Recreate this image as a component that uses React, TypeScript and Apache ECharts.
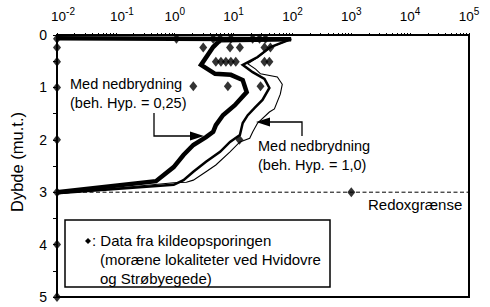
import React, { useEffect, useRef } from 'react';
import * as echarts from 'echarts';

// Tick labels
const xTickLabels = [0.01, 0.1, 1, 10, 100, 1000, 10000, 100000];
const depthLabels = [0, 1, 2, 3, 4, 5];

// Model curve: Med nedbrydning (beh. Hyp. = 0,25) – thick
const thickX = [0.01, 95, 5.9, 4.5, 2.8, 4.85, 9.0, 14.3, 16.7, 10.5, 6.6, 5.0, 4.5, 3.4, 2.07, 1.41, 0.96, 0.48, 0.01];
const thickD = [0.06, 0.08, 0.10, 0.23, 0.57, 0.74, 0.76, 0.86, 1.09, 1.34, 1.53, 1.72, 1.85, 1.95, 2.10, 2.29, 2.52, 2.79, 3.0];

// Model curve – medium
const mediumX = [0.01, 95, 42.3, 25.6, 14.3, 21.1, 33.5, 40.6, 31, 22.8, 17.4, 14.3, 12.8, 8.7, 5.9, 3.4, 2.07, 1.41, 0.96, 0.01];
const mediumD = [0.06, 0.08, 0.23, 0.42, 0.57, 0.71, 0.84, 1.01, 1.24, 1.39, 1.53, 1.68, 1.91, 2.04, 2.23, 2.42, 2.61, 2.77, 2.86, 3.02];

// Model curve: Med nedbrydning (beh. Hyp. = 1,0) – thin
const thinX = [0.01, 95, 42.3, 25.6, 17.4, 23.7, 28.7, 55.4, 67.2, 62.2, 49.4, 40.6, 25.6, 21.1, 18.8, 12.8, 8.7, 5.0, 3.4, 2.07, 1.58, 0.96, 0.01];
const thinD = [0.06, 0.08, 0.24, 0.43, 0.55, 0.65, 0.74, 0.80, 0.94, 1.13, 1.41, 1.47, 1.68, 1.85, 1.97, 2.04, 2.23, 2.48, 2.61, 2.77, 2.81, 2.82, 3.03];

// Data fra kildeopsporingen
const dataX = [0.01, 0.01, 0.01, 0.01, 0.01, 0.01, 0.01, 0.01,
  1.07, 4.5, 5.9, 9.0, 21.1, 27.6, 34.8,
  3.05, 8.7, 12.8, 33.5, 42.3,
  5.0, 6.1, 7.4, 9.0, 10.9, 33.5, 40.6,
  2.07, 8.0, 28.7,
  12.6, 1000];
const dataD = [0.07, 0.24, 0.51, 1.0, 2.0, 3.0, 4.0, 5.0,
  0.07, 0.07, 0.07, 0.07, 0.07, 0.07, 0.07,
  0.24, 0.24, 0.24, 0.24, 0.24,
  0.51, 0.51, 0.51, 0.51, 0.51, 0.51, 0.51,
  0.98, 0.98, 0.98,
  2.0, 3.0];

// Redoxgrænse
const redoxX = [0.01, 100000];
const redoxD = [3.0, 3.0];

const zip = (xs: number[], ys: number[]) => xs.map((x, i) => [x, ys[i]]);

const FONT = 'Liberation Sans, Arial, sans-serif';

export default function App() {
  const ref = useRef<HTMLDivElement>(null);
  useEffect(() => {
    const chart = echarts.init(ref.current!, null, { renderer: 'svg' });
    const logTicks: number[] = [];
    for (let e = -2; e < 5; e++) {
      for (let m = 1; m < 10; m++) logTicks.push(Number((m * Math.pow(10, e)).toPrecision(6)));
    }
    logTicks.push(100000);

    const txt = (text: string, x: number, y: number, size = 14.5) => ({
      type: 'text',
      style: { text, x, y, font: `${size}px ${FONT}`, fill: '#000', verticalAlign: 'middle', align: 'left' },
      z: 10,
    });

    chart.setOption({
      animation: false,
      backgroundColor: '#fff',
      grid: { left: 52, right: 21, top: 35, bottom: 10, show: true, borderColor: '#000', borderWidth: 2 },
      xAxis: {
        type: 'log',
        logBase: 10,
        min: 0.01,
        max: 100000,
        position: 'top',
        axisLine: { show: true, lineStyle: { color: '#000', width: 2 } },
        axisTick: { show: true, inside: false, length: 2, customValues: logTicks, lineStyle: { color: '#000', width: 1 } },
        minorTick: { show: false },
        splitLine: { show: false },
        axisLabel: {
          customValues: xTickLabels,
          margin: 9,
          color: '#000',
          formatter: (v: number) => {
            const e = Math.round(Math.log10(v));
            return e < 0 ? `{bn|10}{s|${e}}` : `{b|10}{s|${e}}`;
          },
          rich: {
            b: { fontSize: 13.5, fontFamily: FONT, color: '#000', lineHeight: 20 },
            bn: { fontSize: 13.5, fontFamily: FONT, color: '#000', lineHeight: 20, padding: [0, 0, 0, 12] },
            s: { fontSize: 10, fontFamily: FONT, color: '#000', lineHeight: 12, verticalAlign: 'top' },
          },
        },
      },
      yAxis: {
        type: 'value',
        inverse: true,
        min: 0,
        max: 5,
        interval: 0.5,
        axisLine: { show: true, lineStyle: { color: '#000', width: 2 } },
        axisTick: { show: true, inside: false, length: 4, lineStyle: { color: '#000' } },
        splitLine: { show: false },
        axisLabel: { customValues: depthLabels, fontSize: 14, fontFamily: FONT, color: '#000', margin: 10 },
        name: 'Dybde (mu.t.)',
        nameLocation: 'middle',
        nameRotate: 90,
        nameGap: 32,
        nameTextStyle: { fontSize: 16.5, fontFamily: FONT, color: '#000', padding: [0, 0, 0, 8] },
      },
      series: [
        { type: 'line', data: zip(redoxX, redoxD), symbol: 'none', clip: false, z: 1,
          lineStyle: { color: '#000', width: 1, type: [4, 2.5] } },
        { type: 'line', data: zip(thickX, thickD), symbol: 'none', clip: false, z: 3,
          lineStyle: { color: '#000', width: 4.5, join: 'miter' } },
        { type: 'line', data: zip(mediumX, mediumD), symbol: 'none', clip: false, z: 3,
          lineStyle: { color: '#000', width: 2.5, join: 'miter' } },
        { type: 'line', data: zip(thinX, thinD), symbol: 'none', clip: false, z: 3,
          lineStyle: { color: '#000', width: 1.1, join: 'miter' } },
        { type: 'scatter', data: zip(dataX, dataD), symbol: 'diamond', symbolSize: [8, 10], clip: false, z: 4,
          itemStyle: { color: '#000' } },
      ],
      graphic: [
        txt('Med nedbrydning', 70, 84),
        txt('(beh. Hyp. = 0,25)', 70, 103),
        { type: 'polyline', shape: { points: [[154, 113], [154, 136], [192, 136]] }, style: { stroke: '#000', lineWidth: 1.3, fill: null }, z: 10 },
        { type: 'polygon', shape: { points: [[204, 136], [190, 131.5], [190, 140.5]] }, style: { fill: '#000' }, z: 10 },
        txt('Med nedbrydning', 258, 146),
        txt('(beh. Hyp. = 1,0)', 258, 165),
        { type: 'polyline', shape: { points: [[302, 136], [302, 122], [268, 122]] }, style: { stroke: '#000', lineWidth: 1.3, fill: null }, z: 10 },
        { type: 'polygon', shape: { points: [[256, 122], [270, 117.5], [270, 126.5]] }, style: { fill: '#000' }, z: 10 },
        txt('Redoxgrænse', 368, 204, 15),
        { type: 'rect', shape: { x: 65, y: 220, width: 265, height: 67 }, style: { fill: '#fff', stroke: '#000', lineWidth: 1.5 }, z: 9 },
        { type: 'polygon', shape: { points: [[88, 238], [91, 241], [88, 244], [85, 241]] }, style: { fill: '#000' }, z: 10 },
        txt(': Data fra kildeopsporingen', 92, 240, 15),
        txt('(moræne lokaliteter ved Hvidovre', 100, 259, 15),
        txt('og Strøbyegede)', 100, 278, 15),
      ],
    });
    return () => chart.dispose();
  }, []);
  return <div ref={ref} style={{ position: 'fixed', left: 0, top: 0, width: 490, height: 307 }} />;
}
